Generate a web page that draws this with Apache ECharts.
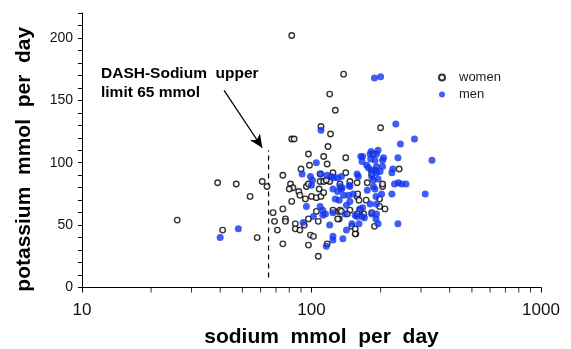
<!DOCTYPE html>
<html>
<head>
<meta charset="utf-8">
<script src="https://cdn.jsdelivr.net/npm/echarts@6/dist/echarts.min.js"></script>
<style>
  html, body { margin: 0; padding: 0; background: #fff; }
  #chart { width: 571px; height: 349px; }
</style>
</head>
<body>
<div id="chart"></div>
<script>
// sodium (x) / potassium (y), mmol per day
const women = [
  [26,54],[39,84],[47,83],[61,85],[64,81],[54,73],[68,60],[69,53],[71,46],[41,46],[58,40],
  [82,202],[138,171],[120,155],[127,142],[110,129],[121,123],[82,119],[84,119],[118,113],[200,128],
  [241,95],[204,81],[198,71],[209,63],[198,65],[188,49],[186,107],[183,91],[175,84],[158,84],[204,83],
  [158,73],[161,70],[173,70],[169,59],[183,60],[156,43],
  [81,83],[83,80],[80,79],[88,77],[89,74],[95,81],[100,73],[105,72],[110,73],[108,79],[109,85],[118,86],
  [75,63],[77,55],[77,53],[85,51],[85,47],[82,69],[75,35],[97,34],[107,25],[99,42],[102,41],[89,46],
  [97,55],[107,53],[105,61],[117,35],[131,61],[133,62],[132,55],[150,49],[155,43],[147,62],[159,75],
  [97,107],[113,105],[141,104],[98,98],[117,99],[90,95],[75,90],[109,91],[124,92],[141,92],[97,83],
  [113,85],[120,85],[133,83],[147,85],[94,71],[113,76],[93,50],[124,62],[130,55],[135,61],[163,62],
  [143,59],[158,59],[155,47],[116,86]
];
const men = [
  [48,47],[40,40],
  [110,126],[188,168],[200,169],[233,131],[244,115],[281,119],[335,102],[238,104],[226,95],[224,92],
  [230,83],[239,84],[247,83],[258,83],[224,75],[313,75],[238,51],
  [206,104],[204,102],[195,110],[182,109],[204,97],[189,102],[192,97],[189,94],[182,94],[183,89],
  [195,87],[186,86],[186,81],[189,79],[202,75],[191,73],[192,67],[192,59],[183,59],[191,55],
  [167,105],[174,98],[177,96],[181,103],[192,92],[199,93],[158,91],[160,89],[175,78],[167,64],
  [158,57],[170,56],[161,51],
  [95,65],[92,52],[109,65],[102,57],[112,58],[115,59],[124,60],[120,50],[116,33],[137,39],[124,41],
  [140,59],[155,58],[124,79],[135,79],[147,81],[138,74],[145,74],[152,75],[132,70],[147,69],[142,66],
  [100,82],[105,100],[91,91],[99,89],[101,86],[110,91],[117,90],[130,88],[135,89],[164,105],
  [112,62],[124,38],[127,71],[130,77],[136,80],[180,107],[192,107],[166,101],[122,89],[125,88],
  [146,82],[133,81],[142,46],[150,51],[166,57],[162,63],[180,67],[195,51]
];

// DASH-Sodium limit line and the arrow pointing at it
const dashLimit = 65;
const dashRange = [8, 110];
const arrowFrom = [41.6, 158];
const arrowTo = [61, 112];

// minor ticks of the log axis
const xMinorTicks = [20,30,40,50,60,70,80,90,200,300,400,500,600,700,800,900];

const font = "'Liberation Sans', Arial, sans-serif";

let myChart = echarts.init(document.getElementById('chart'));

myChart.setOption({
  animation: false,
  grid: { left: 82, right: 30, top: 13, bottom: 61.5, containLabel: false, outerBoundsMode: 'none' },
  legend: {
    data: ['women', 'men'],
    orient: 'vertical',
    left: 433,
    top: 66,
    itemWidth: 6,
    itemHeight: 6,
    itemGap: 4,
    textStyle: { fontFamily: font, fontSize: 13, color: '#222', padding: [0, 0, 0, 9] }
  },
  xAxis: {
    type: 'log',
    logBase: 10,
    min: 10,
    max: 1000,
    name: 'sodium  mmol  per  day',
    nameLocation: 'middle',
    nameGap: 39,
    nameTextStyle: {
      fontFamily: font, fontSize: 21, fontWeight: 'bold', color: '#000',
      padding: [0, 0, 0, 20]
    },
    axisLine: { lineStyle: { color: '#000', width: 1 } },
    axisTick: { show: true, length: 5, lineStyle: { color: '#000' } },
    axisLabel: {
      fontFamily: font, fontSize: 17, color: '#111', margin: 14,
      formatter: function (v) { return String(Math.round(v)); }
    },
    splitLine: { show: false },
    minorTick: { show: false }
  },
  yAxis: {
    type: 'value',
    min: 0,
    max: 220,
    interval: 10,
    name: 'potassium  mmol  per  day',
    nameLocation: 'middle',
    nameGap: 47,
    nameTextStyle: {
      fontFamily: font, fontSize: 21, fontWeight: 'bold', color: '#000',
      padding: [0, 18, 0, 0]
    },
    axisLine: { show: true, lineStyle: { color: '#000', width: 1 } },
    axisTick: { show: true, length: 4, lineStyle: { color: '#000' } },
    axisLabel: {
      fontFamily: font, fontSize: 14, color: '#111', margin: 9,
      formatter: function (v) { return v % 50 === 0 ? String(v) : ''; }
    },
    splitLine: { show: false }
  },
  graphic: [
    {
      type: 'text', left: 101, top: 64,
      style: {
        text: 'DASH-Sodium  upper\nlimit 65 mmol',
        font: 'bold 15.5px ' + font,
        fill: '#000',
        lineHeight: 19
      }
    }
  ],
  series: [
    {
      name: 'women',
      type: 'scatter',
      symbol: 'circle',
      symbolSize: 5.5,
      itemStyle: { color: '#fff', borderColor: '#000', borderWidth: 1.4 },
      data: women,
      z: 3
    },
    {
      name: 'men',
      type: 'scatter',
      symbol: 'circle',
      symbolSize: 7,
      itemStyle: { color: '#1234f0' },
      data: men,
      z: 4
    },
    {
      name: 'limit',
      type: 'line',
      silent: true,
      symbol: 'none',
      data: [[dashLimit, dashRange[0]], [dashLimit, dashRange[1]]],
      lineStyle: { color: '#000', width: 1.2, type: [5, 4] },
      markLine: {
        silent: true,
        symbol: ['none', 'arrow'],
        symbolSize: [9, 13],
        label: { show: false },
        lineStyle: { color: '#000', width: 1.3, type: 'solid' },
        data: [[{ coord: arrowFrom }, { coord: arrowTo }]]
      },
      z: 2
    },
    {
      name: 'minorTicks',
      type: 'scatter',
      silent: true,
      clip: false,
      symbol: 'rect',
      symbolSize: [1, 5],
      symbolOffset: [0, 2.5],
      itemStyle: { color: '#000' },
      data: xMinorTicks.map(v => [v, 0]),
      z: 5
    }
  ]
});
</script>
</body>
</html>
